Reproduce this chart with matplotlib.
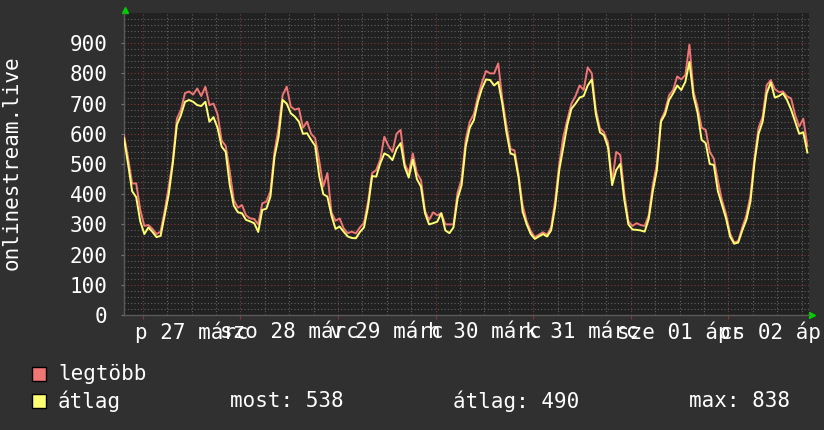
import pandas as pd
import matplotlib
matplotlib.use('Agg')
import matplotlib.pyplot as plt
import matplotlib.dates as mdates
from matplotlib.patches import Rectangle
from matplotlib.ticker import FixedLocator, FixedFormatter

# hourly samples, starting 26 Mar 19:24
start = '2020-03-26 19:24'
avg_vals = [585, 500, 410, 390, 310, 268, 290, 275, 258, 262,
            330, 400, 502, 630, 662, 706, 712, 706, 695, 692,
            706, 640, 655, 620, 558, 540, 430, 362, 340, 337,
            315, 310, 304, 275, 348, 352, 392, 524, 590, 712,
            700, 668, 657, 640, 600, 602, 580, 560, 460, 400,
            392, 330, 285, 293, 276, 260, 255, 254, 275, 290,
            359, 460, 458, 502, 535, 528, 513, 550, 569, 491,
            455, 515, 450, 425, 337, 300, 304, 309, 337, 280,
            271, 290, 385, 430, 558, 620, 645, 706, 750, 780,
            778, 760, 772, 700, 607, 535, 530, 455, 342, 300,
            268, 252, 260, 268, 260, 280, 359, 480, 555, 630,
            683, 700, 720, 725, 760, 780, 665, 605, 595, 555,
            430, 480, 500, 381, 300, 283, 282, 280, 276, 318,
            410, 480, 640, 664, 712, 734, 760, 745, 772, 838,
            725, 670, 580, 569, 500, 497, 410, 365, 320, 260,
            236, 240, 280, 315, 375, 505, 600, 640, 734, 770,
            720, 725, 734, 712, 680, 640, 600, 605, 538]
max_vals = [595, 520, 435, 436, 348, 295, 298, 285, 268, 276,
            345, 425, 512, 650, 680, 735, 740, 730, 750, 725,
            756, 695, 700, 665, 578, 560, 475, 380, 355, 364,
            330, 320, 318, 300, 370, 375, 410, 540, 620, 728,
            756, 690, 680, 684, 620, 640, 600, 585, 510, 425,
            470, 340, 312, 320, 287, 271, 276, 270, 290, 305,
            375, 470, 480, 515, 590, 560, 540, 600, 613, 502,
            470, 535, 470, 447, 345, 315, 340, 330, 337, 300,
            300, 300, 405, 450, 580, 640, 665, 723, 770, 808,
            800, 800, 833, 715, 630, 550, 545, 465, 364, 310,
            278, 258, 266, 274, 266, 290, 380, 500, 590, 647,
            700, 725, 760, 745, 820, 800, 680, 618, 605, 570,
            440, 540, 530, 403, 310, 295, 304, 298, 295, 330,
            430, 500, 646, 675, 728, 745, 790, 780, 795, 895,
            740, 690, 620, 613, 540, 518, 445, 380, 335, 270,
            240, 245, 290, 330, 395, 520, 620, 656, 761, 778,
            748, 738, 740, 724, 717, 662, 624, 650, 560]

day_labels = ['p 27 márc', 'szo 28 márc', 'v 29 márc', 'h 30 márc',
              'k 31 márc', 'sze 01 ápr', 'cs 02 ápr']
series_names = ['legtöbb', 'átlag']
stat_texts = ['most: 538', 'átlag: 490', 'max: 838']
y_title = 'onlinestream.live'

BG = '#303030'
PLOT_BG = '#212121'
RED = '#f07676'
YEL = '#ffff72'
GRID_MAJ = '#803838'
GRID_MIN = '#626262'
FS = 15

plt.rcParams['font.family'] = ['DejaVu Sans Mono']

fig = plt.figure(figsize=(8.24, 4.30), dpi=100, facecolor=BG)
ax = fig.add_axes([124 / 824, 115 / 430, 685 / 824, 302 / 430])
ax.set_facecolor(PLOT_BG)

t0 = pd.Timestamp(start)
times = pd.date_range(t0, periods=len(avg_vals), freq='h')
ax.plot(times, max_vals, color=RED, lw=1.4, zorder=3)
ax.plot(times, avg_vals, color=YEL, lw=1.4, zorder=4)

ax.set_xlim(mdates.date2num(t0), mdates.date2num(t0 + pd.Timedelta(hours=168.4)))
ax.set_ylim(0, 1000)

# day boundaries = major, every 6h = minor, labels at noon
days = pd.date_range('2020-03-27', periods=len(day_labels), freq='D')
minor_pos, minor_lab = [], []
for d, lab in zip(days, day_labels):
    for h, txt in ((6, ''), (12, lab), (18, '')):
        minor_pos.append(mdates.date2num(d + pd.Timedelta(hours=h)))
        minor_lab.append(txt)
ax.xaxis.set_major_locator(FixedLocator(mdates.date2num(days)))
ax.xaxis.set_major_formatter(FixedFormatter([''] * len(days)))
ax.xaxis.set_minor_locator(FixedLocator(minor_pos))
ax.xaxis.set_minor_formatter(FixedFormatter(minor_lab))

ax.yaxis.set_major_locator(FixedLocator(list(range(0, 1000, 100))))
ax.yaxis.set_minor_locator(FixedLocator(list(range(0, 1000, 20))))

ax.set_axisbelow(True)
ax.grid(which='major', color=GRID_MAJ, lw=0.8, ls=(0, (1, 2)))
ax.grid(which='minor', color=GRID_MIN, lw=0.8, ls=(0, (1, 2)))

ax.tick_params(axis='x', which='major', length=3, color=GRID_MAJ, labelsize=0)
ax.tick_params(axis='x', which='minor', length=0, pad=5, labelsize=FS, labelcolor='white')
ax.tick_params(axis='y', which='major', length=2, color='#777777', pad=10,
               labelsize=FS, labelcolor='white')
ax.tick_params(axis='y', which='minor', length=0)

for side in ('top', 'right'):
    ax.spines[side].set_visible(False)
for side in ('left', 'bottom'):
    ax.spines[side].set_color('#5a5a5a')
    ax.spines[side].set_linewidth(1)

# rrd style arrows
ax.plot([1.004], [0], marker='>', color='#00d000', ms=5, transform=ax.transAxes, clip_on=False)
ax.plot([0.002], [1.01], marker='^', color='#00d000', ms=5, transform=ax.transAxes, clip_on=False)

fig.text(12 / 824, 1 - 163 / 430, y_title, rotation=90, color='white', fontsize=FS,
         ha='center', va='center')

# legend
W, H = 824, 430
for i, (name, col) in enumerate(zip(series_names, [RED, YEL])):
    yc = 374 + i * 27
    fig.patches.append(Rectangle((32 / W, 1 - (yc + 7) / H), 14 / W, 14 / H,
                                 transform=fig.transFigure, facecolor=col,
                                 edgecolor='black', lw=1))
    fig.text(58 / W, 1 - yc / H, name, color='white', fontsize=FS, va='center')
for x, txt in zip([230, 453, 689], stat_texts):
    fig.text(x / W, 1 - 401 / H, txt, color='white', fontsize=FS, va='center')

fig.savefig('out.png', dpi=100, facecolor=BG)
